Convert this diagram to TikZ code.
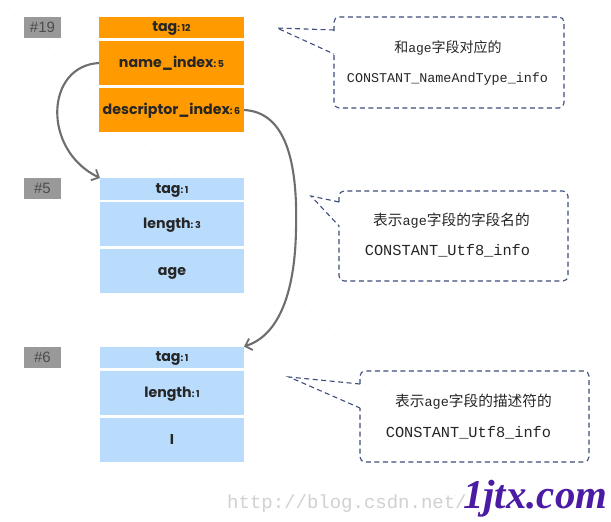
\documentclass[tikz,border=0pt]{standalone}
\usepackage{fontspec}
\setmainfont{Poppins}
\newfontfamily\cjkf{Noto Sans CJK SC}
\newfontfamily\monof{Liberation Mono}
\newfontfamily\serf{Liberation Serif}
\newfontfamily\hashf{Liberation Sans}
\usetikzlibrary{arrows.meta}
\definecolor{orangebox}{HTML}{FF9A00}
\definecolor{bluebox}{HTML}{B9DCFD}
\definecolor{graybox}{HTML}{999999}
\definecolor{linkgray}{HTML}{6E6E6E}
\definecolor{dashblue}{HTML}{3E4E7C}
\definecolor{griddot}{HTML}{EBEBEB}
\definecolor{brandc}{HTML}{4C1BA4}
\tikzset{
  cell/.style={anchor=north west,inner sep=0pt,outer sep=0pt,minimum width=145pt,text height=12pt,text depth=3pt,font=\fontsize{14.2}{14.2}\selectfont\bfseries,text=black!85},
  ocell/.style={cell,fill=orangebox},
  bcell/.style={cell,fill=bluebox,minimum width=144pt},
  tall/.style={minimum height=44pt},
  short/.style={minimum height=21.5pt},
  idbox/.style={anchor=north west,inner sep=0pt,outer sep=0pt,fill=graybox,minimum width=37pt,minimum height=21.5pt,font=\hashf\fontsize{15}{15}\selectfont,text=black!70},
  link/.style={draw=linkgray,line width=2.1pt,-{Straight Barb[length=6pt,width=12pt,line width=1.8pt]}},
  callout/.style={draw=dashblue,line width=1.1pt,dash pattern=on 5pt off 3.5pt},
  note/.style={inner sep=0pt,text=black!85},
}
\newcommand{\num}[1]{{\fontsize{9.5}{9.5}\selectfont :\,#1}}
\begin{document}
\begin{tikzpicture}[x=1pt,y=-1pt]
\useasboundingbox (0,0) rectangle (611,522);
\fill[white] (0,0) rectangle (611,522);
\foreach \i in {0,...,60}{\foreach \j in {0,...,51}{\fill[griddot] (\i*10+5,\j*10+5) circle (0.5pt);}}
% id labels
\node[idbox] (id19) at (24,16.5) {\#19};
\node[idbox] (id5) at (24,177.5) {\#5};
\node[idbox] (id6) at (24,346.5) {\#6};
% constant 19
\node[ocell,short] (a1) at (99,16.5) {tag\num{12}};
\node[ocell,tall] (a2) at (99,41) {name\_index\num{5}};
\node[ocell,tall] (a3) at (99,88) {descriptor\_index\num{6}};
% constant 5
\node[bcell,short] (b1) at (100,178) {tag\num{1}};
\node[bcell,tall] (b2) at (100,202) {length\num{3}};
\node[bcell,tall] (b3) at (100,249) {age};
% constant 6
\node[bcell,short] (c1) at (100,346.5) {tag\num{1}};
\node[bcell,tall] (c2) at (100,371) {length\num{1}};
\node[bcell,tall] (c3) at (100,418) {I};
% connectors
\draw[link] (a2.west) .. controls (45,66) and (42,150) .. (b1.north west);
\draw[link] (a3.east) .. controls (285,112) and (298,160) .. (296,230) .. controls (295,290) and (280,335) .. (c1.north east);
% callouts
\draw[callout,rounded corners=5pt] (334,31) -- (334,17) -- (564,17) -- (564,108) -- (334,108) -- (334,54);
\draw[callout] (334,30) -- (277,28) -- (334,54);
\draw[callout,rounded corners=5pt] (339,202) -- (339,191) -- (568,191) -- (568,281) -- (339,281) -- (339,226);
\draw[callout] (339,202) -- (311,196) -- (339,226);
\draw[callout,rounded corners=5pt] (360,384) -- (360,371) -- (589,371) -- (589,462) -- (360,462) -- (360,408);
\draw[callout] (360,384) -- (289,377) -- (360,408);
% notes
\node[note] (n1) at (448,48) {\cjkf\fontsize{14}{14}\selectfont 和\monof\fontsize{13}{13}\selectfont age\cjkf\fontsize{14}{14}\selectfont 字段对应的};
\node[note] (n1b) at (447.5,79) {\monof\fontsize{13.4}{13.4}\selectfont CONSTANT\_NameAndType\_info};
\node[note] (n2) at (451.5,221) {\cjkf\fontsize{14.7}{14.7}\selectfont 表示\monof\fontsize{13.5}{13.5}\selectfont age\cjkf\fontsize{14.7}{14.7}\selectfont 字段的字段名的};
\node[note] (n2b) at (447.5,251) {\monof\fontsize{15.3}{15.3}\selectfont CONSTANT\_Utf8\_info};
\node[note] (n3) at (473.5,402) {\cjkf\fontsize{14.7}{14.7}\selectfont 表示\monof\fontsize{13.5}{13.5}\selectfont age\cjkf\fontsize{14.7}{14.7}\selectfont 字段的描述符的};
\node[note] (n3b) at (468.5,433) {\monof\fontsize{15.3}{15.3}\selectfont CONSTANT\_Utf8\_info};
% watermarks
\node[anchor=base west,inner sep=0pt,text=black!18] (w1) at (227,508) {\monof\fontsize{19}{19}\selectfont http://blog.csdn.net/};
\node[anchor=base west,inner sep=0pt,text=brandc] (w2) at (463,508) {\serf\fontsize{40.8}{40.8}\selectfont\bfseries\itshape 1jtx.com};
\end{tikzpicture}
\end{document}
